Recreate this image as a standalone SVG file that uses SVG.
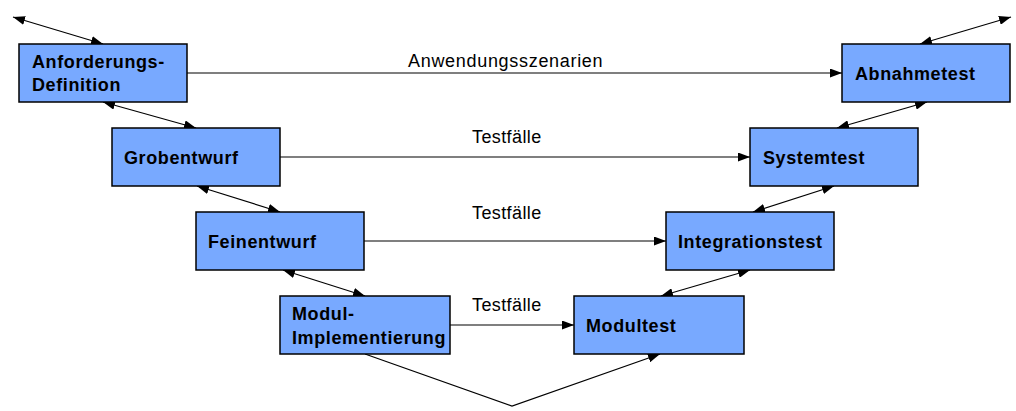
<svg xmlns="http://www.w3.org/2000/svg" width="1016" height="411" viewBox="0 0 1016 411">
<defs>
<marker id="ah" markerUnits="userSpaceOnUse" markerWidth="12" markerHeight="9" refX="12" refY="4.5" orient="auto-start-reverse">
<path d="M0,0 L12,4.5 L0,9 z" fill="#000"/>
</marker>
<style>
.box{fill:#78A9FF;stroke:#000;stroke-width:1.5}
.bt{font-family:"Liberation Sans",Arial,sans-serif;font-size:18px;font-weight:bold;fill:#000;letter-spacing:0.6px}
.lt{font-family:"Liberation Sans",Arial,sans-serif;font-size:18px;fill:#000;letter-spacing:0.4px}
.c{stroke:#000;stroke-width:1.2;fill:none}
.d{marker-start:url(#ah);marker-end:url(#ah)}
.s{marker-end:url(#ah)}
</style>
</defs>
<rect width="1016" height="411" fill="#fff"/>
<g id="connectors">
<line class="c d" x1="13" y1="17" x2="103" y2="44"/>
<line class="c d" x1="103" y1="102" x2="196" y2="128"/>
<line class="c d" x1="197" y1="186" x2="280" y2="212"/>
<line class="c d" x1="283" y1="270" x2="365" y2="296"/>
<polyline class="c s" points="365,354 512,406 660,354"/>
<line class="c d" x1="661" y1="296" x2="750" y2="270"/>
<line class="c d" x1="753" y1="212" x2="834" y2="186"/>
<line class="c d" x1="837" y1="128" x2="927" y2="102"/>
<line class="c d" x1="920" y1="44" x2="1011" y2="17"/>
<line class="c s" x1="187" y1="73" x2="842" y2="73"/>
<line class="c s" x1="280" y1="157" x2="750" y2="157"/>
<line class="c s" x1="364" y1="241" x2="666" y2="241"/>
<line class="c s" x1="450" y1="325" x2="574" y2="325"/>
<text class="lt" x="408" y="67" textLength="195">Anwendungsszenarien</text>
<text class="lt" x="472" y="143">Testfälle</text>
<text class="lt" x="472" y="219">Testfälle</text>
<text class="lt" x="472" y="311">Testfälle</text>
</g>
<g id="anforderungsdefinition">
<rect class="box" x="19" y="44" width="168" height="58"/>
<text class="bt" x="32" y="68">Anforderungs-</text>
<text class="bt" x="32" y="91">Definition</text>
</g>
<g id="grobentwurf">
<rect class="box" x="112" y="128" width="168" height="58"/>
<text class="bt" x="124" y="164">Grobentwurf</text>
</g>
<g id="feinentwurf">
<rect class="box" x="196" y="212" width="168" height="58"/>
<text class="bt" x="208" y="248">Feinentwurf</text>
</g>
<g id="modulimplementierung">
<rect class="box" x="280" y="296" width="170" height="58"/>
<text class="bt" x="292" y="320">Modul-</text>
<text class="bt" x="292" y="344">Implementierung</text>
</g>
<g id="modultest">
<rect class="box" x="574" y="296" width="170" height="58"/>
<text class="bt" x="586" y="332">Modultest</text>
</g>
<g id="integrationstest">
<rect class="box" x="666" y="212" width="168" height="58"/>
<text class="bt" x="678" y="248">Integrationstest</text>
</g>
<g id="systemtest">
<rect class="box" x="750" y="128" width="168" height="58"/>
<text class="bt" x="763" y="164">Systemtest</text>
</g>
<g id="abnahmetest">
<rect class="box" x="842" y="44" width="168" height="58"/>
<text class="bt" x="855" y="80">Abnahmetest</text>
</g>
</svg>
